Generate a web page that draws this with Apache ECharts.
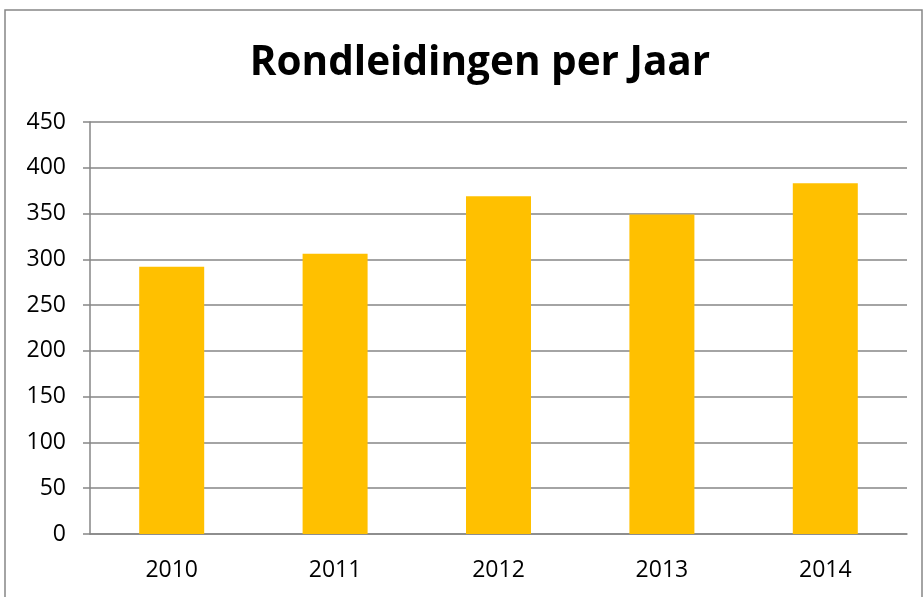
<!DOCTYPE html>
<html>
<head>
<meta charset="utf-8">
<script src="https://cdn.jsdelivr.net/npm/echarts@6/dist/echarts.min.js"></script>
<style>
  html, body { margin: 0; padding: 0; background: #fff; }
  #chart { width: 924px; height: 597px; }
</style>
</head>
<body>
<div id="chart"></div>
<script>
const years = ['2010', '2011', '2012', '2013', '2014'];
const tours = [292, 306, 369, 349, 383];

const FONT = '"Open Sans", "Noto Sans", sans-serif';
const gray = '#868686';

const chart = echarts.init(document.getElementById('chart'));
chart.setOption({
  animation: false,
  title: {
    text: 'Rondleidingen per Jaar',
    left: 475,
    top: 38,
    textAlign: 'center',
    textStyle: { fontFamily: FONT, fontSize: 40.5, fontWeight: 'bold', color: '#000' }
  },
  graphic: [{
    type: 'rect',
    shape: { x: 5, y: 10, width: 917, height: 620 },
    style: { fill: 'none', stroke: gray, lineWidth: 1.5 },
    silent: true
  }],
  grid: { left: 90, right: 17, top: 122, bottom: 63 },
  xAxis: {
    type: 'category',
    data: years,
    axisLine: { lineStyle: { color: gray, width: 1.5 } },
    axisTick: { length: 8, lineStyle: { color: gray, width: 1.5 } },
    axisLabel: { fontFamily: FONT, fontSize: 23, color: '#000', margin: 25 }
  },
  yAxis: {
    type: 'value',
    min: 0,
    max: 450,
    interval: 50,
    axisLine: { show: true, lineStyle: { color: gray, width: 1.5 } },
    axisTick: { show: true, length: 7, lineStyle: { color: gray, width: 1.5 } },
    axisLabel: { fontFamily: FONT, fontSize: 23, color: '#000', margin: 24 },
    splitLine: { lineStyle: { color: gray, width: 1.5 } }
  },
  series: [{
    type: 'bar',
    data: tours,
    barWidth: 65,
    itemStyle: { color: '#FFC000' }
  }]
});
</script>
</body>
</html>
